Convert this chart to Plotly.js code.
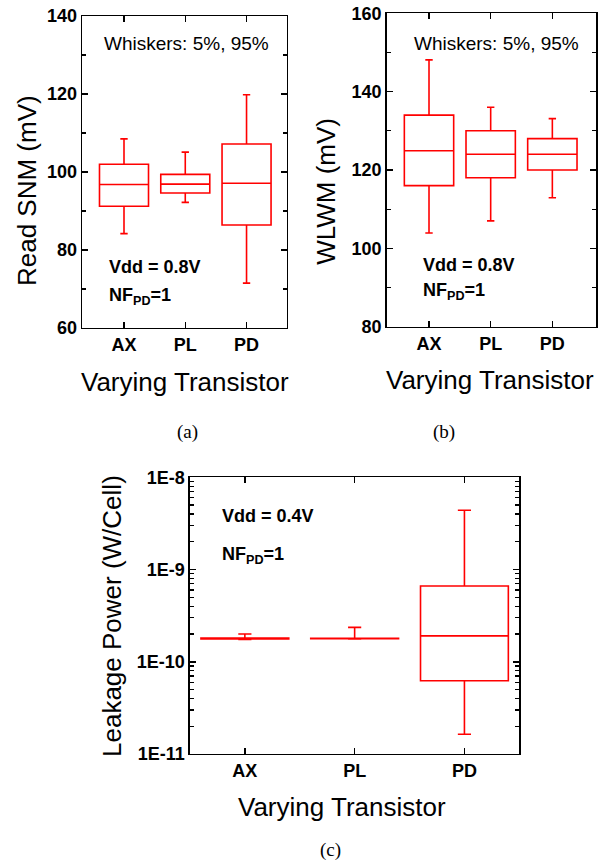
<!DOCTYPE html>
<html>
<head>
<meta charset="utf-8">
<script src="https://cdn.plot.ly/plotly-3.0.1.min.js"></script>
<style>
html,body{margin:0;padding:0;background:#fff;}
#chart{width:614px;height:862px;}
</style>
</head>
<body>
<div id="chart"></div>
<script>
const categories = ['AX', 'PL', 'PD'];

// (a) Read SNM (mV)
const snmLower  = [84.2, 92.2, 71.5];
const snmQ1     = [91.2, 94.6, 86.4];
const snmMedian = [96.8, 96.9, 97.1];
const snmQ3     = [102.0, 99.4, 107.2];
const snmUpper  = [108.5, 105.1, 119.8];

// (b) WLWM (mV)
const wlwmLower  = [103.9, 107.0, 112.9];
const wlwmQ1     = [116.0, 118.0, 120.0];
const wlwmMedian = [124.9, 124.0, 124.0];
const wlwmQ3     = [134.0, 130.0, 128.0];
const wlwmUpper  = [148.1, 136.0, 133.1];

// (c) Leakage Power (W/Cell)
const leakLower  = [1.75e-10, 1.77e-10, 1.64e-11];
const leakQ1     = [1.77e-10, 1.78e-10, 6.22e-11];
const leakMedian = [1.79e-10, 1.79e-10, 1.91e-10];
const leakQ3     = [1.81e-10, 1.80e-10, 6.62e-10];
const leakUpper  = [2.00e-10, 2.36e-10, 4.39e-9];

const logTickVals = [1e-11, 1e-10, 1e-9, 1e-8];
const logTickText = ['1E-11', '1E-10', '1E-9', '1E-8'];

const RED = '#ff0000';
const SANS = 'Liberation Sans, Arial, sans-serif';
const SERIF = 'Liberation Serif, Times New Roman, serif';

function boxTrace(q1, med, q3, lo, hi, xa, ya) {
  return {
    type: 'box', x: categories, q1: q1, median: med, q3: q3,
    lowerfence: lo, upperfence: hi,
    xaxis: xa, yaxis: ya, width: 0.8, whiskerwidth: 0.15,
    line: {color: RED, width: 1.6}, fillcolor: 'rgba(0,0,0,0)',
    boxpoints: false, showlegend: false, hoverinfo: 'skip'
  };
}

const data = [
  boxTrace(snmQ1, snmMedian, snmQ3, snmLower, snmUpper, 'x', 'y'),
  boxTrace(wlwmQ1, wlwmMedian, wlwmQ3, wlwmLower, wlwmUpper, 'x2', 'y2'),
  boxTrace(leakQ1, leakMedian, leakQ3, leakLower, leakUpper, 'x3', 'y3')
];

const tickFont = {family: SANS, size: 18, color: '#000', weight: 'bold'};
const titleFont = {family: SANS, size: 26, color: '#000'};

function xAxis(domain, anchor, range) {
  return {
    domain: domain, anchor: anchor, type: 'category', range: range,
    showline: true, linecolor: '#000', linewidth: 1.5, mirror: 'ticks',
    ticks: 'inside', ticklen: 6, tickwidth: 1.5, tickcolor: '#000',
    showgrid: false, zeroline: false, tickfont: tickFont
  };
}
function yAxis(domain, anchor, range) {
  return {
    domain: domain, anchor: anchor, range: range, dtick: 20,
    showline: true, linecolor: '#000', linewidth: 1.5, mirror: 'ticks',
    ticks: 'inside', ticklen: 6, tickwidth: 1.5, tickcolor: '#000',
    minor: {dtick: 10, ticks: 'inside', ticklen: 4, tickwidth: 1.2, tickcolor: '#000'},
    showgrid: false, zeroline: false, tickfont: tickFont
  };
}

function note(text, x, y, opts) {
  return Object.assign({text: text, xref: 'paper', yref: 'paper', x: x, y: y,
    xanchor: 'center', yanchor: 'middle', showarrow: false,
    font: {family: SANS, size: 18, color: '#000'}}, opts || {});
}

const layout = {
  width: 614, height: 862,
  margin: {l: 0, r: 0, t: 0, b: 0},
  paper_bgcolor: '#fff', plot_bgcolor: '#fff',
  showlegend: false,
  xaxis: xAxis([0.1336, 0.4674], 'y', [-0.685, 2.66]),
  yaxis: yAxis([0.6195, 0.9814], 'x', [60, 140]),
  xaxis2: xAxis([0.6298, 0.9707], 'y2', [-0.686, 2.708]),
  yaxis2: yAxis([0.621, 0.9846], 'x2', [80, 160]),
  xaxis3: xAxis([0.3094, 0.8458], 'y3', [-0.5, 2.5]),
  yaxis3: {
    domain: [0.1253, 0.4463], anchor: 'x3', type: 'log', range: [-11, -8],
    tickmode: 'array', tickvals: logTickVals, ticktext: logTickText,
    showline: true, linecolor: '#000', linewidth: 1.5, mirror: 'ticks',
    ticks: 'inside', ticklen: 6, tickwidth: 1.5, tickcolor: '#000',
    minor: {dtick: 'D1', ticks: 'inside', ticklen: 4, tickwidth: 1.2, tickcolor: '#000'},
    showgrid: false, zeroline: false, tickfont: tickFont
  },
  annotations: [
    // axis titles
    note('Read SNM (mV)', 0.044, 0.7784, {textangle: -90, font: titleFont}),
    note('WLWM (mV)', 0.5306, 0.7784, {textangle: -90, font: titleFont}),
    note('Leakage Power (W/Cell)', 0.1824, 0.2854, {textangle: -90, font: titleFont}),
    note('Varying Transistor', 0.302, 0.5570, {font: titleFont}),
    note('Varying Transistor', 0.798, 0.5590, {font: titleFont}),
    note('Varying Transistor', 0.5578, 0.0640, {font: titleFont}),
    // in-plot texts
    note('Whiskers: 5%, 95%', 0.3041, 0.9498, {font: {family: SANS, size: 19, color: '#000'}}),
    note('Whiskers: 5%, 95%', 0.809, 0.9498, {font: {family: SANS, size: 19, color: '#000'}}),
    note('<b>Vdd = 0.8V</b>', 0.1738, 0.6906, {xanchor: 'left'}),
    note('<b>NF<sub>PD</sub>=1</b>', 0.1738, 0.6566, {xanchor: 'left'}),
    note('<b>Vdd = 0.8V</b>', 0.6852, 0.6926, {xanchor: 'left'}),
    note('<b>NF<sub>PD</sub>=1</b>', 0.6852, 0.6616, {xanchor: 'left'}),
    note('<b>Vdd = 0.4V</b>', 0.3583, 0.4014, {xanchor: 'left'}),
    note('<b>NF<sub>PD</sub>=1</b>', 0.3583, 0.3561, {xanchor: 'left'}),
    // panel labels
    note('(a)', 0.3046, 0.4988, {font: {family: SERIF, size: 19, color: '#000'}}),
    note('(b)', 0.7231, 0.4988, {font: {family: SERIF, size: 19, color: '#000'}}),
    note('(c)', 0.539, 0.0139, {font: {family: SERIF, size: 19, color: '#000'}})
  ]
};

Plotly.newPlot('chart', data, layout, {displayModeBar: false, staticPlot: true});
</script>
</body>
</html>
